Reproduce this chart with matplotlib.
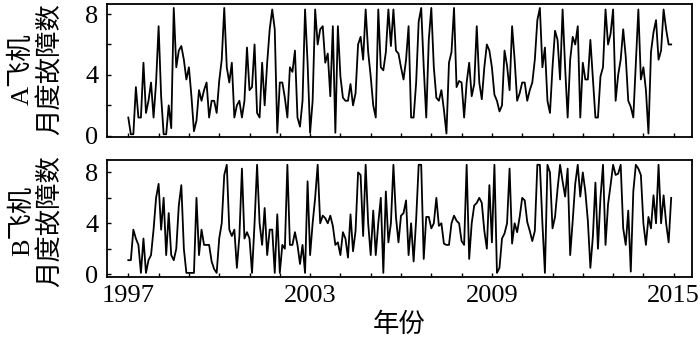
import numpy as np
import matplotlib
matplotlib.use("Agg")
import matplotlib.pyplot as plt

start_year = 1997
a_values = [
    1.2, 0.1, 0.1, 3.2, 1.2, 1.2, 4.8, 1.5, 2.3, 3.5,
    1.2, 3.5, 7.2, 2.6, 0.1, 0.1, 2.0, 0.5, 8.4, 4.5,
    5.6, 5.9, 5.0, 3.7, 4.5, 2.6, 0.3, 1.0, 3.0, 2.3,
    3.0, 3.5, 1.2, 2.3, 2.3, 1.5, 3.6, 5.0, 8.4, 4.5,
    3.5, 4.8, 1.2, 2.0, 2.3, 1.2, 2.3, 5.8, 3.0, 3.2,
    6.0, 1.5, 1.2, 4.8, 2.0, 4.8, 7.0, 8.3, 7.0, 0.2,
    3.5, 3.5, 2.5, 1.2, 4.5, 4.2, 5.6, 1.2, 0.6, 2.3,
    8.3, 4.8, 0.2, 2.3, 8.3, 6.0, 7.0, 7.2, 4.8, 5.4,
    2.6, 7.2, 0.2, 7.2, 3.9, 2.5, 2.3, 2.3, 3.4, 2.0,
    2.8, 6.0, 6.5, 5.0, 8.3, 5.5, 3.9, 2.0, 1.2, 8.3,
    4.5, 4.3, 5.5, 8.3, 5.9, 8.3, 5.6, 5.4, 4.5, 3.7,
    5.0, 7.2, 1.2, 1.2, 3.5, 7.5, 8.4, 4.5, 1.2, 6.3,
    8.4, 4.5, 2.5, 2.3, 3.0, 1.7, 0.15, 4.8, 5.5, 8.4,
    3.2, 3.6, 3.5, 1.2, 3.5, 4.8, 2.6, 3.4, 7.2, 3.5,
    2.4, 4.5, 6.0, 5.6, 4.5, 2.7, 2.3, 1.6, 2.0, 5.6,
    4.6, 3.0, 7.2, 5.0, 2.3, 2.8, 3.5, 3.5, 2.3, 3.0,
    3.5, 5.0, 7.6, 8.4, 4.5, 5.8, 2.3, 1.5, 4.5, 6.9,
    6.3, 3.7, 8.3, 4.5, 1.2, 5.0, 6.5, 6.0, 7.2, 1.2,
    4.8, 3.7, 3.7, 6.3, 3.7, 1.2, 1.2, 3.9, 4.5, 8.3,
    6.0, 6.7, 8.3, 2.3, 4.0, 5.0, 7.0, 5.2, 2.3, 1.9,
    1.2, 4.8, 8.3, 3.7, 4.5, 3.0, 0.15, 5.5, 6.8, 7.6,
    5.0, 5.6, 8.3, 7.0, 6.0, 6.0,
]
b_values = [
    1.1, 1.1, 3.5, 2.8, 2.3, 0.1, 2.8, 0.1, 1.1, 1.5,
    3.5, 6.0, 7.1, 3.5, 6.0, 1.5, 4.8, 1.5, 1.1, 2.0,
    5.4, 7.0, 2.0, 0.1, 0.1, 0.1, 0.1, 6.0, 1.5, 3.5,
    2.3, 2.3, 2.3, 1.0, 0.4, 0.1, 2.8, 4.0, 7.8, 8.6,
    3.5, 3.0, 3.5, 0.5, 3.0, 8.3, 2.8, 3.3, 2.8, 0.1,
    4.0, 8.6, 4.0, 2.3, 5.2, 1.5, 3.5, 3.5, 0.1, 4.7,
    0.1, 2.3, 2.0, 8.6, 2.3, 2.3, 3.3, 2.3, 0.8, 2.3,
    0.1, 7.3, 1.5, 4.0, 6.0, 8.6, 4.0, 4.6, 4.4, 4.0,
    4.6, 3.8, 2.3, 2.5, 1.5, 3.3, 2.8, 1.3, 4.7, 1.8,
    3.4, 8.0, 7.8, 3.0, 8.6, 4.0, 1.5, 5.0, 1.5, 4.0,
    6.0, 0.1, 6.5, 2.5, 4.0, 8.6, 4.5, 2.5, 4.6, 4.8,
    5.8, 1.5, 4.0, 1.0, 4.3, 8.6, 8.6, 1.2, 4.5, 4.5,
    3.6, 4.0, 6.0, 3.8, 4.0, 2.4, 2.3, 2.3, 4.0, 4.6,
    4.2, 4.0, 2.6, 2.3, 8.6, 1.2, 4.0, 5.4, 5.6, 6.0,
    5.6, 3.4, 2.0, 7.0, 2.5, 8.6, 0.1, 0.5, 2.8, 3.2,
    4.0, 8.3, 2.4, 4.0, 3.3, 4.5, 6.0, 5.8, 4.1, 3.4,
    2.6, 3.4, 8.6, 8.6, 4.0, 0.1, 8.6, 8.0, 3.6, 4.5,
    6.7, 8.6, 7.3, 6.1, 8.3, 1.5, 4.2, 7.1, 8.6, 6.1,
    8.0, 6.5, 4.2, 0.5, 3.0, 7.2, 2.0, 6.0, 8.6, 2.3,
    5.5, 7.0, 8.6, 7.8, 7.9, 8.6, 3.6, 2.3, 5.0, 0.2,
    6.5, 8.6, 8.3, 7.8, 4.0, 2.3, 4.5, 3.6, 6.2, 4.0,
    8.6, 4.0, 6.2, 4.0, 2.5, 6.0,
]
x_tick_labels = [1997, 2003, 2009, 2015]
y_tick_labels = [0, 4, 8]
panel_labels = [("A飞机", "月度故障数"), ("B飞机", "月度故障数")]
x_label = "年份"

SERIF = ["Liberation Serif", "DejaVu Serif"]
CJK = ["Liberation Serif", "Noto Sans CJK SC", "DejaVu Sans"]

fig = plt.figure(figsize=(7.0, 3.39), dpi=100)
W, H = 700, 339

def add_axes(x0, y0, x1, y1):
    return fig.add_axes([x0 / W, 1 - y1 / H, (x1 - x0) / W, (y1 - y0) / H])

ax_a = add_axes(106.7, 4, 691.7, 137.3)
ax_b = add_axes(106.7, 159.7, 691.7, 276.7)

series = [np.array(a_values), np.array(b_values)]
ylims = [(-0.1, 8.66), (-0.2, 9.0)]
for k, (ax, vals) in enumerate(zip([ax_a, ax_b], series)):
    t = start_year + np.arange(len(vals)) / 12.0
    ax.plot(t, vals, color="black", lw=1.3)
    ax.set_xlim(1996.287, 2015.594)
    ax.set_ylim(*ylims[k])
    ax.set_xticks(np.arange(1997, 2016, 1))
    ax.set_yticks([0, 2, 4, 6, 8])
    ax.set_yticklabels([str(v) if v in y_tick_labels else "" for v in [0, 2, 4, 6, 8]],
                       fontfamily=SERIF, fontsize=19)
    if k == 1:
        ax.set_xticklabels([str(y) if y in x_tick_labels else "" for y in range(1997, 2016)],
                           fontfamily=SERIF, fontsize=19)
    else:
        ax.set_xticklabels([])
    ax.tick_params(direction="in", length=3, width=1.0, pad=6,
                   top=False, right=False)
    ax.tick_params(axis="x", pad=6)
    for s in ax.spines.values():
        s.set_linewidth(1.3)

# panel labels (two rotated columns)
for (l1, l2), yc in zip(panel_labels, [69, 221]):
    fig.text(22 / W, 1 - yc / H, l1, rotation=90, ha="center", va="center",
             fontsize=19, family=CJK)
    fig.text(50 / W, 1 - yc / H, l2, rotation=90, ha="center", va="center",
             fontsize=19, family=CJK)

fig.text(399 / W, 1 - 325 / H, x_label, ha="center", va="center",
         fontsize=19, family=CJK)

fig.savefig("out.png", dpi=100)
